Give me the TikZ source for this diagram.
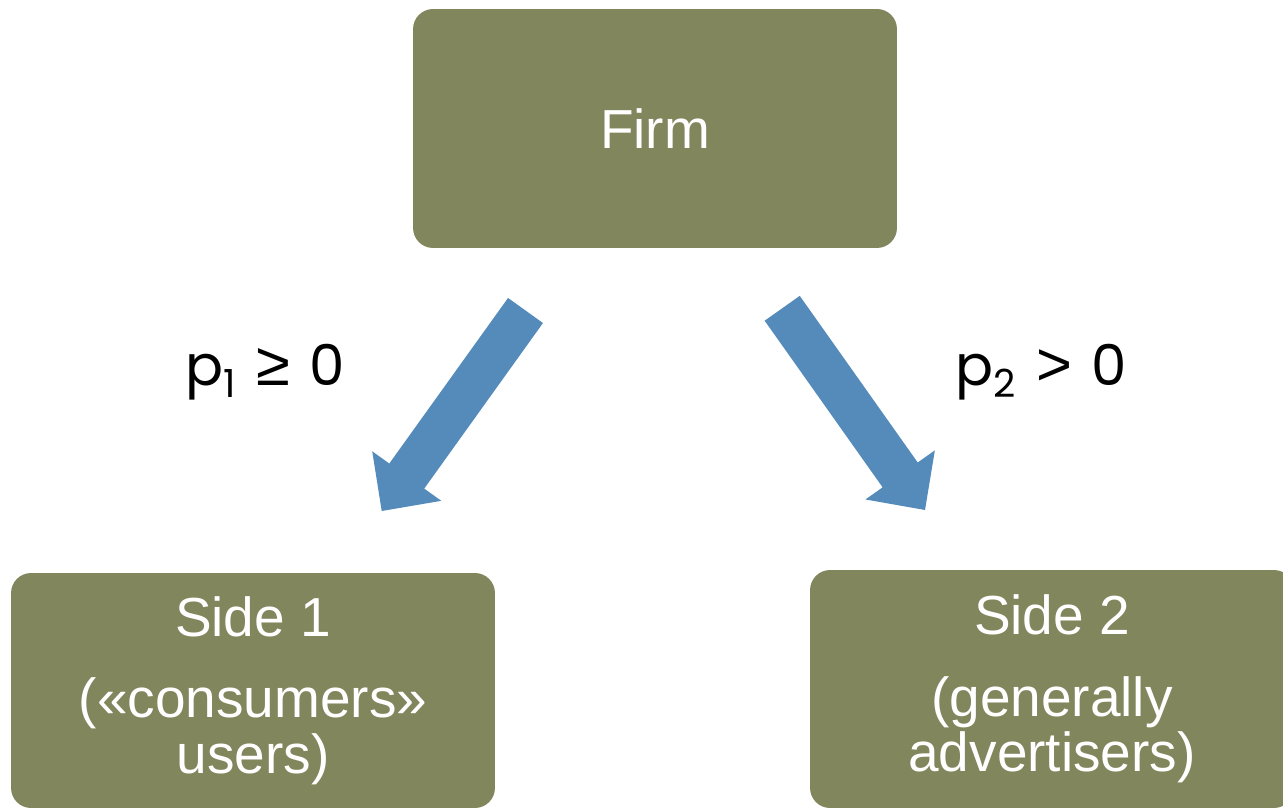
\documentclass[tikz,border=0pt]{standalone}
\usepackage{fontspec}
\setmainfont{Liberation Sans}
\newfontfamily\labelfont{Poppins}
\newfontfamily\relfont{Liberation Sans}
\usetikzlibrary{calc}
\definecolor{boxolive}{RGB}{130,134,92}
\definecolor{arrowblue}{RGB}{84,139,186}

% block arrow from tail midpoint #1 to tip #2
\newcommand\blockarrow[2]{%
  \coordinate (#1neck) at ($(#2)!0.86cm!(#1)$);
  \fill[arrowblue]
    ($(#1)!0.43cm!90:(#2)$) -- ($(#1neck)!0.43cm!90:(#2)$) --
    ($(#1neck)!0.85cm!90:(#2)$) -- (#2) --
    ($(#1neck)!0.85cm!-90:(#2)$) -- ($(#1neck)!0.43cm!-90:(#2)$) --
    ($(#1)!0.43cm!-90:(#2)$) -- cycle;}
% relation sign and subscript inside the price labels
\newcommand\relsign[1]{{\relfont\fontsize{35pt}{35pt}\selectfont #1}}
\newcommand\lowsub[1]{\raisebox{-0.26cm}{\fontsize{22pt}{22pt}\selectfont #1}}

\begin{document}
\begin{tikzpicture}[x=0.02cm,y=-0.02cm,
  box/.style={fill=boxolive, rounded corners=0.4cm, text=white, align=center,
    inner sep=0pt, minimum width=9.68cm, minimum height=4.76cm,
    font=\fontsize{31.3pt}{31.6pt}\selectfont},
  price/.style={anchor=base west, inner sep=0pt,
    font=\labelfont\fontsize{32pt}{32pt}\selectfont}]
\useasboundingbox (0,0) rectangle (1283,810);

\node[box, minimum height=4.78cm] (firm) at (655,128.5) {Firm};
\node[box, minimum height=4.7cm] (side1) at (253,690.5)
  {Side 1\\[15pt]({\guillemotleft}consumers{\guillemotright}\\users)};
\node[box] (side2) at (1052,689)
  {Side 2\\[15pt](generally\\advertisers)};

\coordinate (t1) at (525.5,310.5);
\coordinate (h1) at (381.7,511);
\coordinate (t2) at (782.2,308.3);
\coordinate (h2) at (925,510);
\blockarrow{t1}{h1}
\blockarrow{t2}{h2}

\node[price] (p1) at (185,385)
  {p\lowsub{1}\hspace{0.42cm}\relsign{≥}\hspace{0.38cm}0};
\node[price] (p2) at (955,385)
  {p\lowsub{2}\hspace{0.42cm}\relsign{>}\hspace{0.38cm}0};
\end{tikzpicture}
\end{document}
